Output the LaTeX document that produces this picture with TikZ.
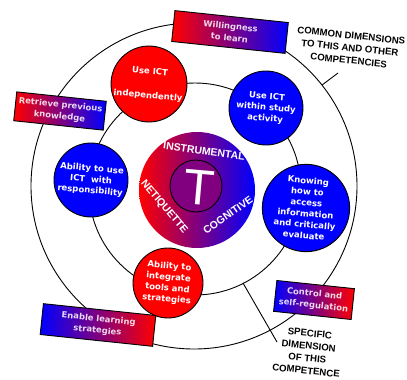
\documentclass[tikz,border=0pt]{standalone}
\usepackage{fontspec}
\newfontfamily\dvs{DejaVu Sans}
\newfontfamily\lbs{Liberation Sans}
\definecolor{tpurple}{RGB}{128,0,128}
\begin{document}
\begin{tikzpicture}[x=1pt,y=-1pt,
 ring/.style={draw=black,line width=0.9pt},
 ball/.style={circle,draw=black,line width=0.9pt,text=white,align=center,inner sep=0pt,rotate=-5,
   font=\dvs\bfseries\fontsize{8.5}{11}\selectfont},
 redball/.style={ball,fill=red},
 blueball/.style={ball,fill=blue},
 grbox/.style={rectangle,draw=black,line width=0.9pt,inner sep=0pt,align=center,text=white,text opacity=0.85,rotate=-6,
   font=\dvs\bfseries\fontsize{8.4}{11.5}\selectfont},
 blk/.style={align=center,inner sep=1pt,font=\lbs\bfseries\fontsize{9.6}{12.5}\selectfont,text=black,rotate=-6},
 corelbl/.style={text=white,inner sep=0pt,font=\lbs\bfseries\fontsize{10.5}{12}\selectfont},
]
\useasboundingbox (0,0) rectangle (407,380);
% rings
\draw[ring] (194,186) circle[radius=163];
\draw[ring] (195,189) circle[radius=106];
% connectors to labels
\coordinate (o1) at (322,85);
\coordinate (o2) at (338,73);
\draw[ring] (o1) -- (o2);
\coordinate (i1) at (243,283);
\coordinate (i2) at (277,342);
\draw[ring] (i1) -- (i2);
% core
\node[circle,minimum size=116pt,left color=red,right color=blue,inner sep=0pt] (core) at (197,190) {};
\node[circle,minimum size=52pt,fill=tpurple,draw=black,line width=0.9pt,inner sep=0pt] (tc) at (196,186) {};
\node[text=white,inner sep=0pt,rotate=-5,font=\lbs\fontsize{50}{50}\selectfont] (tl) at (199,188) {T};
\node[corelbl,rotate=-8] (instr) at (204,151) {INSTRUMENTAL};
\node[corelbl,rotate=-50] (neti) at (164,207) {NETIQUETTE};
\node[corelbl,rotate=35] (cogn) at (228,215) {COGNITIVE};
% balls
\node[redball,minimum size=75pt] (indep) at (149,84) {Use ICT\\[13pt]independently};
\node[blueball,minimum size=74pt] (within) at (266,108) {Use ICT\\within study\\activity};
\node[blueball,minimum size=74pt] (resp) at (91,180) {Ability to use\\ICT~ with\\responsibility};
\node[blueball,minimum size=80pt] (know) at (306,208) {Knowing\\how to\\access\\information\\and critically\\evaluate};
\node[redball,minimum size=70pt] (integ) at (168,283) {Ability to\\integrate\\tools and\\strategies};
% boxes
\node[grbox,minimum width=114pt,minimum height=31pt,left color=red,right color=blue] (will) at (230,32) {Willingness\\to learn};
\node[grbox,minimum width=90pt,minimum height=29pt,left color=red,right color=blue] (retr) at (60,111) {Retrieve previous\\knowledge};
\node[grbox,minimum width=78pt,minimum height=31pt,left color=blue,right color=red] (ctrl) at (314,300) {Control and\\self-regulation};
\node[grbox,minimum width=113pt,minimum height=31pt,left color=blue,right color=red] (enab) at (98,325) {Enable learning\\strategies};
% labels
\node[blk] (common) at (350,48) {COMMON DIMENSIONS\\TO THIS AND OTHER\\COMPETENCIES};
\node[blk] (specific) at (308,352) {SPECIFIC\\DIMENSION\\OF THIS\\COMPETENCE};
\end{tikzpicture}
\end{document}
